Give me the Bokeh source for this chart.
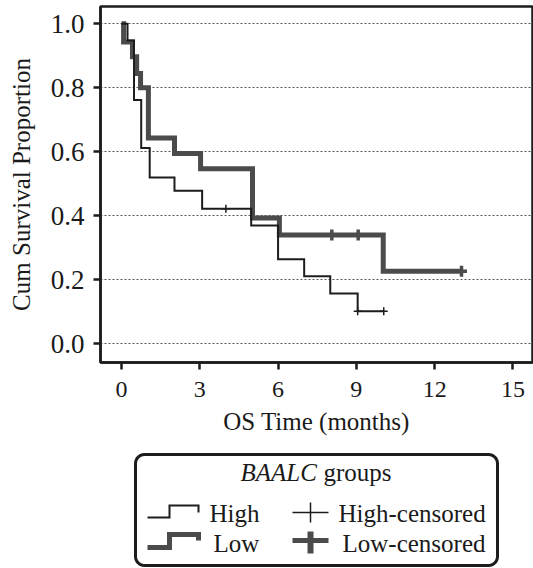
import numpy as np
from bokeh.plotting import figure
from bokeh.layouts import column
from bokeh.models import FixedTicker
from bokeh.embed import file_html
from bokeh.resources import INLINE
from bokeh.core.properties import value

# ---- data ----
high_times = [0.0, 0.23, 0.48, 0.755, 1.08, 2.03, 3.09, 4.97, 6.0, 7.0, 8.0, 9.05]
high_surv = [1.0, 0.948, 0.762, 0.612, 0.52, 0.478, 0.422, 0.37, 0.264, 0.211, 0.157, 0.102]
high_last = 10.05
high_cens_t = [4.0, 9.05, 10.05]
high_cens_s = [0.422, 0.102, 0.102]

low_times = [0.0, 0.08, 0.42, 0.58, 0.73, 1.03, 2.03, 3.03, 5.02, 6.05, 10.03]
low_surv = [1.0, 0.943, 0.897, 0.845, 0.8, 0.643, 0.595, 0.547, 0.393, 0.34, 0.227]
low_last = 13.03
low_cens_t = [8.06, 9.07, 13.03]
low_cens_s = [0.34, 0.34, 0.227]

x_ticks = [0, 3, 6, 9, 12, 15]
y_ticks = [0.0, 0.2, 0.4, 0.6, 0.8, 1.0]
y_tick_labels = ["0.0", "0.2", "0.4", "0.6", "0.8", "1.0"]

FONT = "Liberation Serif"
BLACK = "#1c1c1c"
GRAY = "#4b4b4b"
TXT = "#1a1a1a"

BL, BR = 100, 1  # shared left/right borders (frames are aligned in a column)

p = figure(width=533, height=452, output_backend="svg", toolbar_location=None,
           x_range=(-0.805, 15.75), y_range=(-0.0584, 1.054),
           min_border_left=BL, min_border_right=BR, min_border_top=6,
           min_border_bottom=90)

p.background_fill_color = "white"
p.border_fill_color = "white"
p.outline_line_color = BLACK
p.outline_line_width = 2.5

p.xgrid.visible = False
p.ygrid.grid_line_color = "#555555"
p.ygrid.grid_line_dash = "2 2"
p.ygrid.grid_line_width = 1
p.ygrid.ticker = FixedTicker(ticks=y_ticks)

p.xaxis.ticker = FixedTicker(ticks=x_ticks)
p.yaxis.ticker = FixedTicker(ticks=y_ticks)
p.yaxis.major_label_overrides = {t: l for t, l in zip(y_ticks, y_tick_labels)}

for ax in (p.xaxis[0], p.yaxis[0]):
    ax.axis_line_color = BLACK
    ax.axis_line_width = 2.5
    ax.major_tick_line_color = BLACK
    ax.major_tick_line_width = 2.5
    ax.major_tick_out = 7
    ax.major_tick_in = 0
    ax.minor_tick_line_color = None
    ax.major_label_text_font = FONT
    ax.major_label_text_color = TXT
    ax.axis_label_text_font = FONT
    ax.axis_label_text_font_style = "normal"
    ax.axis_label_text_color = TXT
    ax.axis_label_text_font_size = "25px"

p.xaxis.major_label_text_font_size = "24px"
p.yaxis.major_label_text_font_size = "27px"
p.xaxis.major_label_standoff = 12
p.yaxis.major_label_standoff = 9
p.xaxis.axis_label = "OS Time (months)"
p.yaxis.axis_label = "Cum Survival Proportion"
p.xaxis.axis_label_standoff = 8
p.yaxis.axis_label_standoff = 13

# survival curves
lx = low_times + [low_last]
ly = low_surv + [low_surv[-1]]
p.step(lx, ly, mode="after", line_color=GRAY, line_width=5, line_join="miter")
hx = high_times + [high_last]
hy = high_surv + [high_surv[-1]]
p.step(hx, hy, mode="after", line_color=BLACK, line_width=2, line_join="miter")

p.scatter(low_cens_t, low_cens_s, marker="cross", size=11, line_width=3.5,
          line_color=GRAY)
p.scatter(high_cens_t, high_cens_s, marker="cross", size=8, line_width=1.5,
          line_color=BLACK)

# ---- legend panel (coordinates are page pixels) ----
lg = figure(width=533, height=116, output_backend="svg", toolbar_location=None,
            x_range=(BL, 533 - BR), y_range=(568, 452),
            min_border_left=BL, min_border_right=BR, min_border_top=0,
            min_border_bottom=0)
lg.axis.visible = False
lg.grid.visible = False
lg.outline_line_color = None
lg.background_fill_color = "white"
lg.border_fill_color = "white"


def rounded_box(x0, x1, y0, y1, r, n=8):
    xs, ys = [], []
    corners = [(x1 - r, y0 + r, -90, 0), (x1 - r, y1 - r, 0, 90),
               (x0 + r, y1 - r, 90, 180), (x0 + r, y0 + r, 180, 270)]
    for cx, cy, a0, a1 in corners:
        a = np.radians(np.linspace(a0, a1, n))
        xs.extend(cx + r * np.cos(a))
        ys.extend(cy + r * np.sin(a))
    return xs, ys


bx, by = rounded_box(135, 497, 454, 565, 9)
lg.patch(bx, by, fill_color="white", line_color=BLACK, line_width=3)

title_y = 472
r1, r2 = 512, 540

lg.text(x=[240], y=[title_y], text=["BAALC"], text_font=value(FONT),
        text_font_size="25px", text_font_style="italic", text_color=TXT,
        text_baseline="alphabetic", text_align="left")
lg.text(x=[323], y=[title_y], text=["groups"], text_font=value(FONT),
        text_font_size="25px", text_color=TXT,
        text_baseline="alphabetic", text_align="left")

lg.line([147, 169, 169, 198, 198], [r1 + 5, r1 + 5, r1 - 7, r1 - 7, r1],
        line_color=BLACK, line_width=2, line_join="miter")
lg.line([147, 169, 169, 198, 198], [r2 + 7, r2 + 7, r2 - 6, r2 - 6, r2],
        line_color=GRAY, line_width=5, line_join="miter")

lg.line([292, 328], [r1, r1], line_color=BLACK, line_width=1.5)
lg.line([310, 310], [r1 - 10, r1 + 10], line_color=BLACK, line_width=1.5)
lg.line([292, 328], [r2, r2], line_color=GRAY, line_width=5)
lg.line([310, 310], [r2 - 9, r2 + 13], line_color=GRAY, line_width=6)

lg.text(x=[209, 213, 338, 342], y=[r1 + 1, r2 + 3, r1 + 1, r2 + 3],
        text=["High", "Low", "High-censored", "Low-censored"],
        text_font=value(FONT), text_font_size="25px", text_color=TXT,
        text_baseline="alphabetic", text_align="left")

layout = column(p, lg, spacing=0)
open("out.html", "w").write(file_html(layout, INLINE))
